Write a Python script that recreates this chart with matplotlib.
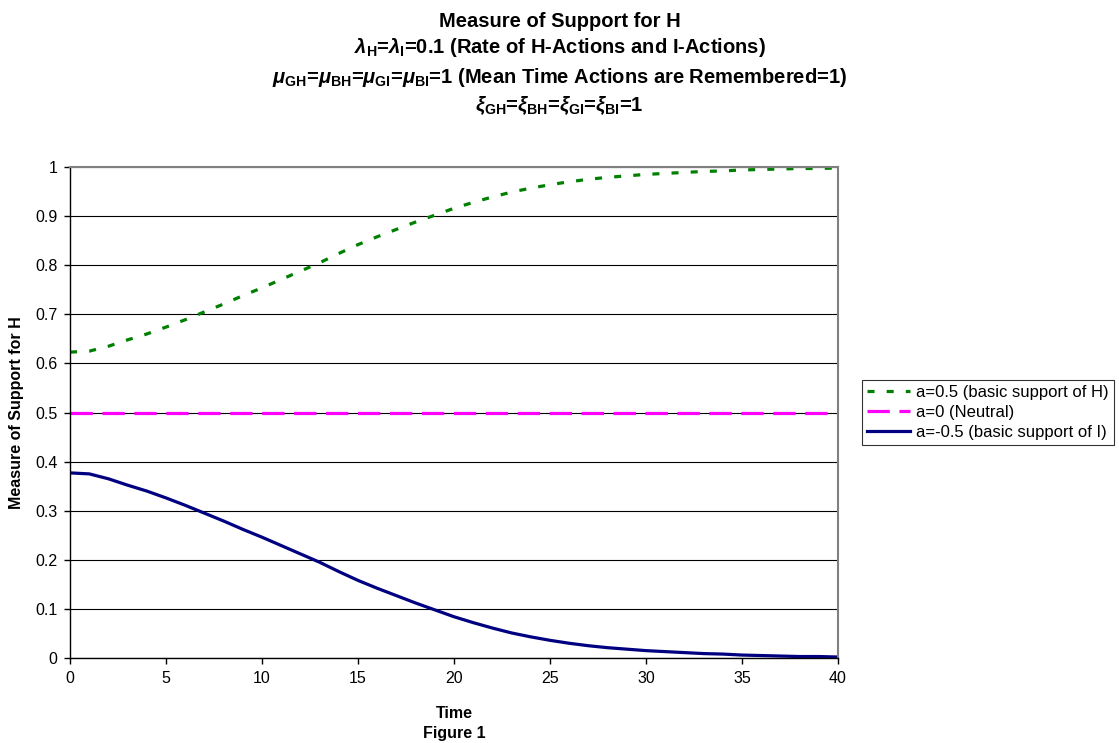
import numpy as np
import matplotlib
matplotlib.use("Agg")
import matplotlib.pyplot as plt

plt.rcParams['font.family'] = ['Liberation Sans', 'DejaVu Sans']
plt.rcParams['mathtext.fontset'] = 'custom'
plt.rcParams['mathtext.rm'] = 'Liberation Sans:bold'
plt.rcParams['mathtext.it'] = 'Liberation Sans:italic:bold'
plt.rcParams['mathtext.bf'] = 'Liberation Sans:bold'

# Valeurs (t = 0..40)
temps = list(range(41))
support_h = [0.623, 0.625, 0.635, 0.648, 0.660, 0.674, 0.689, 0.705, 0.721, 0.738,
             0.754, 0.771, 0.788, 0.805, 0.824, 0.842, 0.858, 0.873, 0.888, 0.902,
             0.916, 0.928, 0.939, 0.949, 0.957, 0.964, 0.970, 0.975, 0.979, 0.982,
             0.985, 0.987, 0.989, 0.991, 0.992, 0.994, 0.995, 0.996, 0.997, 0.997, 0.998]
neutre = [0.5] * 41
support_i = [0.377, 0.375, 0.365, 0.352, 0.340, 0.326, 0.311, 0.295, 0.279, 0.262,
             0.246, 0.229, 0.212, 0.195, 0.176, 0.158, 0.142, 0.127, 0.112, 0.098,
             0.084, 0.072, 0.061, 0.051, 0.043, 0.036, 0.030, 0.025, 0.021, 0.018,
             0.015, 0.013, 0.011, 0.009, 0.008, 0.006, 0.005, 0.004, 0.003, 0.003, 0.002]
etiquettes = ['a=0.5 (basic support of H)', 'a=0 (Neutral)', 'a=-0.5 (basic support of I)']
lignes_titre = ['Measure of Support for H',
                r'$\lambda_{\rm H}$=$\lambda_{\rm I}$=0.1 (Rate of H-Actions and I-Actions)',
                r'$\mu_{\rm GH}$=$\mu_{\rm BH}$=$\mu_{\rm GI}$=$\mu_{\rm BI}$=1 (Mean Time Actions are Remembered=1)',
                r'$\xi_{\rm GH}$=$\xi_{\rm BH}$=$\xi_{\rm GI}$=$\xi_{\rm BI}$=1']

fig = plt.figure(figsize=(11.19, 7.43), dpi=100)
ax = fig.add_axes([0.0626, 0.1144, 0.6863, 0.6608])

ax.plot(temps, support_h, color='#008000', lw=2.3, dashes=(2.2, 3.8), label=etiquettes[0])
ax.plot(temps, neutre, color='#FF00FF', lw=2.3, dashes=(7, 3), label=etiquettes[1])
ax.plot(temps, support_i, color='#000080', lw=2.3, label=etiquettes[2])

ax.set_xlim(0, 40)
ax.set_ylim(0, 1)
ax.set_xticks(np.arange(0, 41, 5))
ax.set_yticks(np.arange(0, 1.01, 0.1))
ax.set_yticklabels(['0', '0.1', '0.2', '0.3', '0.4', '0.5', '0.6', '0.7', '0.8', '0.9', '1'])
ax.tick_params(labelsize=11.5, length=4, width=1, direction='out', pad=5)
ax.grid(axis='y', color='black', lw=0.8)
ax.set_axisbelow(True)
for cote in ['top', 'right']:
    ax.spines[cote].set_color('#808080')
    ax.spines[cote].set_linewidth(1.5)
for cote in ['left', 'bottom']:
    ax.spines[cote].set_linewidth(1.0)

ax.set_ylabel('Measure of Support for H', fontsize=11.5, fontweight='bold', labelpad=8)
ax.set_xlabel('Time\nFigure 1', fontsize=11.5, fontweight='bold', labelpad=15, linespacing=1.4)

# titre centré sur toute la figure, une ligne à la fois
y_titre = [0.964, 0.928, 0.888, 0.851]
for texte, y in zip(lignes_titre, y_titre):
    fig.text(0.5, y, texte, ha='center', va='baseline', fontsize=14.5, fontweight='bold')

leg = ax.legend(loc='center left', bbox_to_anchor=(1.031, 0.5), fontsize=12, frameon=True,
                fancybox=False, edgecolor='black', handlelength=2.6, handletextpad=0.35,
                borderpad=0.3, labelspacing=0.3, borderaxespad=0)
leg.get_frame().set_linewidth(0.8)

fig.savefig('out.png', dpi=100)
